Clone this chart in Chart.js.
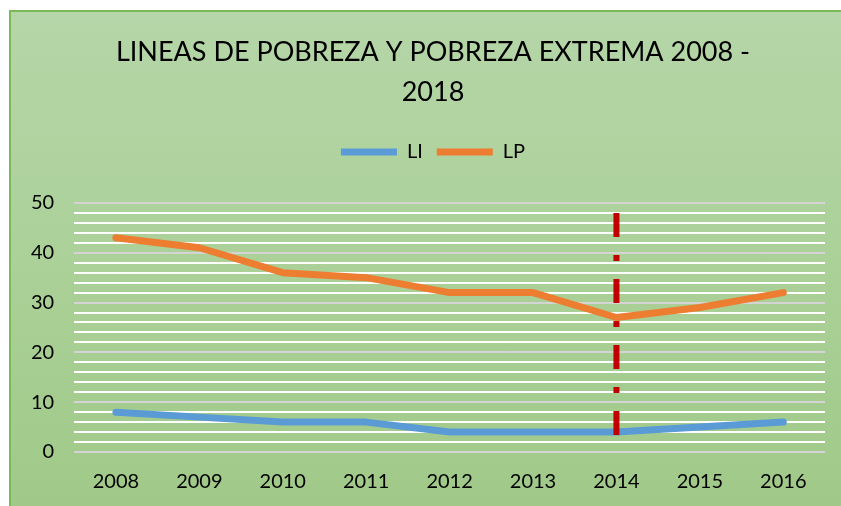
<!DOCTYPE html>
<html>
<head>
<meta charset="utf-8">
<script src="https://cdn.jsdelivr.net/npm/chart.js@4.4.0/dist/chart.umd.min.js"></script>
<style>
  html, body { margin: 0; padding: 0; background: #fff; overflow: hidden; width: 841px; height: 506px; }
  #marco {
    position: absolute; left: 9px; top: 10px; width: 830px; height: 500px;
    border-left: 2px solid #7cb75a; border-top: 2px solid #7cb75a;
    background: linear-gradient(to bottom, #b5d6a8 0%, #a9cf95 60%, #a0c988 100%);
  }
  #chartPobreza { display: block; }
</style>
</head>
<body>
<div id="marco"><canvas id="chartPobreza"></canvas></div>
<script>
// datos
const anios = ['2008', '2009', '2010', '2011', '2012', '2013', '2014', '2015', '2016'];
const valoresLI = [8, 7, 6, 6, 4, 4, 4, 5, 6];
const valoresLP = [43, 41, 36, 35, 32, 32, 27, 29, 32];
const anioMarca = '2014';
const rangoMarca = [48, 3];

const chartPobreza = document.getElementById('chartPobreza');
chartPobreza.width = 830;
chartPobreza.height = 500;

Chart.defaults.font.family = 'Lato, "Open Sans", sans-serif';
Chart.defaults.color = '#000';

// espacio extra debajo de la leyenda
const espacioLeyenda = {
    id: 'espacioLeyenda',
    beforeInit(chart) {
        const fitOriginal = chart.legend.fit;
        chart.legend.fit = function () {
            fitOriginal.bind(chart.legend)();
            this.height += 31;
        };
    },
    // titulo y leyenda centrados en todo el marco, no solo en el area del grafico
    afterLayout(chart) {
        [chart.titleBlock, chart.legend].forEach(b => {
            b.left += 15;
            b.right += 15;
        });
    }
};

new Chart(chartPobreza, {
    type: 'line',
    data: {
        labels: anios,
        datasets: [{
            label: '',
            data: rangoMarca.map(v => ({x: anioMarca, y: v})),
            borderColor: '#c00000',
            borderWidth: 6,
            borderDash: [24, 18, 6, 18],
            borderCapStyle: 'butt',
            pointRadius: 0,
            order: -1
        }, {
            label: 'LI',
            data: valoresLI,
            borderColor: '#5b9bd5',
            backgroundColor: '#5b9bd5',
            borderWidth: 7,
            borderCapStyle: 'round',
            borderJoinStyle: 'round',
            pointRadius: 0,
            order: 0
        }, {
            label: 'LP',
            data: valoresLP,
            borderColor: '#ed7d31',
            backgroundColor: '#ed7d31',
            borderWidth: 7,
            borderCapStyle: 'round',
            borderJoinStyle: 'round',
            pointRadius: 0,
            order: 0
        }]
    },
    plugins: [espacioLeyenda],
    options: {
        responsive: false,
        animation: false,
        layout: { padding: { left: 0, right: 16, top: 20, bottom: 0 } },
        plugins: {
            title: {
                display: true,
                text: ['LINEAS DE POBREZA Y POBREZA EXTREMA 2008 -', '2018'],
                font: { size: 27, weight: 'normal', lineHeight: 1.48 },
                padding: { top: 0, bottom: 16 }
            },
            legend: {
                labels: {
                    filter: item => item.text !== '',
                    usePointStyle: true,
                    pointStyle: 'line',
                    pointStyleWidth: 56,
                    boxHeight: 8,
                    font: { size: 20 },
                    padding: 14
                }
            },
            tooltip: { enabled: false }
        },
        scales: {
            x: {
                offset: true,
                grid: { display: false, drawTicks: false },
                border: { display: false },
                ticks: { font: { size: 20 }, padding: 18 }
            },
            y: {
                min: 0,
                max: 50,
                border: { display: false },
                grid: {
                    color: ctx => ctx.tick.value % 10 === 0 ? '#d4d4d4' : '#ffffff',
                    lineWidth: 2,
                    drawTicks: false
                },
                ticks: {
                    stepSize: 2,
                    autoSkip: false,
                    font: { size: 20 },
                    padding: 20,
                    callback: v => v % 10 === 0 ? v : ''
                }
            }
        }
    }
});
</script>
</body>
</html>
